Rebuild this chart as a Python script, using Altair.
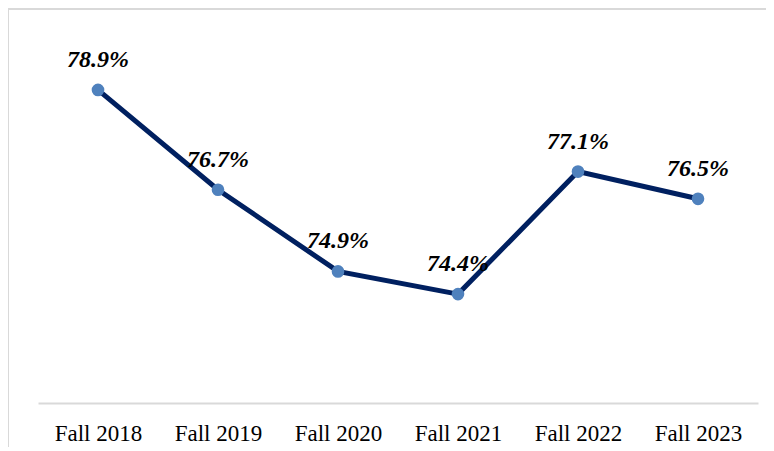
import altair as alt
import pandas as pd

terms = ["Fall 2018", "Fall 2019", "Fall 2020", "Fall 2021", "Fall 2022", "Fall 2023"]
rates = [78.9, 76.7, 74.9, 74.4, 77.1, 76.5]
labels = ["78.9%", "76.7%", "74.9%", "74.4%", "77.1%", "76.5%"]

df = pd.DataFrame({"term": terms, "rate": rates, "label": labels})

W, H = 720, 363
SERIF = "Liberation Serif"

x_enc = alt.X(
    "term:N",
    sort=None,
    scale=alt.Scale(type="point", padding=0.5),
    axis=alt.Axis(
        title=None,
        domainColor="#d9d9d9",
        domainWidth=2,
        ticks=False,
        labelFont=SERIF,
        labelFontSize=23,
        labelColor="#000000",
        labelPadding=19,
        labelAngle=0,
        grid=False,
    ),
)
y_enc = alt.Y("rate:Q", scale=alt.Scale(domain=[72, 80], nice=False, zero=False), axis=None)

base = alt.Chart(df)

line = base.mark_line(color="#002060", strokeWidth=5).encode(x=x_enc, y=y_enc)
pts = base.mark_circle(color="#4F81BD", size=160, opacity=1).encode(x=x_enc, y=y_enc)
txt = base.mark_text(
    font=SERIF, fontSize=24, fontWeight="bold", fontStyle="italic",
    color="#000000", dy=-23, baseline="alphabetic", align="center"
).encode(x=x_enc, y=y_enc, text="label:N")

border_top = alt.Chart(pd.DataFrame({"k": [0]})).mark_rule(color="#d9d9d9", strokeWidth=2).encode(
    x=alt.value(-30), x2=alt.value(W + 40), y=alt.value(-31)
)
border_left = alt.Chart(pd.DataFrame({"k": [0]})).mark_rule(color="#d9d9d9", strokeWidth=2).encode(
    x=alt.value(-30), y=alt.value(-31), y2=alt.value(H + 60)
)

chart = (
    alt.layer(border_top, border_left, line, pts, txt)
    .properties(
        width=W,
        height=H,
        autosize=alt.AutoSizeParams(type="none"),
        padding={"left": 30, "top": 32, "right": 8, "bottom": 44},
        background="#ffffff",
    )
    .configure_view(stroke=None)
)

chart.save("out.html", embed_options={"renderer": "svg", "actions": False})
